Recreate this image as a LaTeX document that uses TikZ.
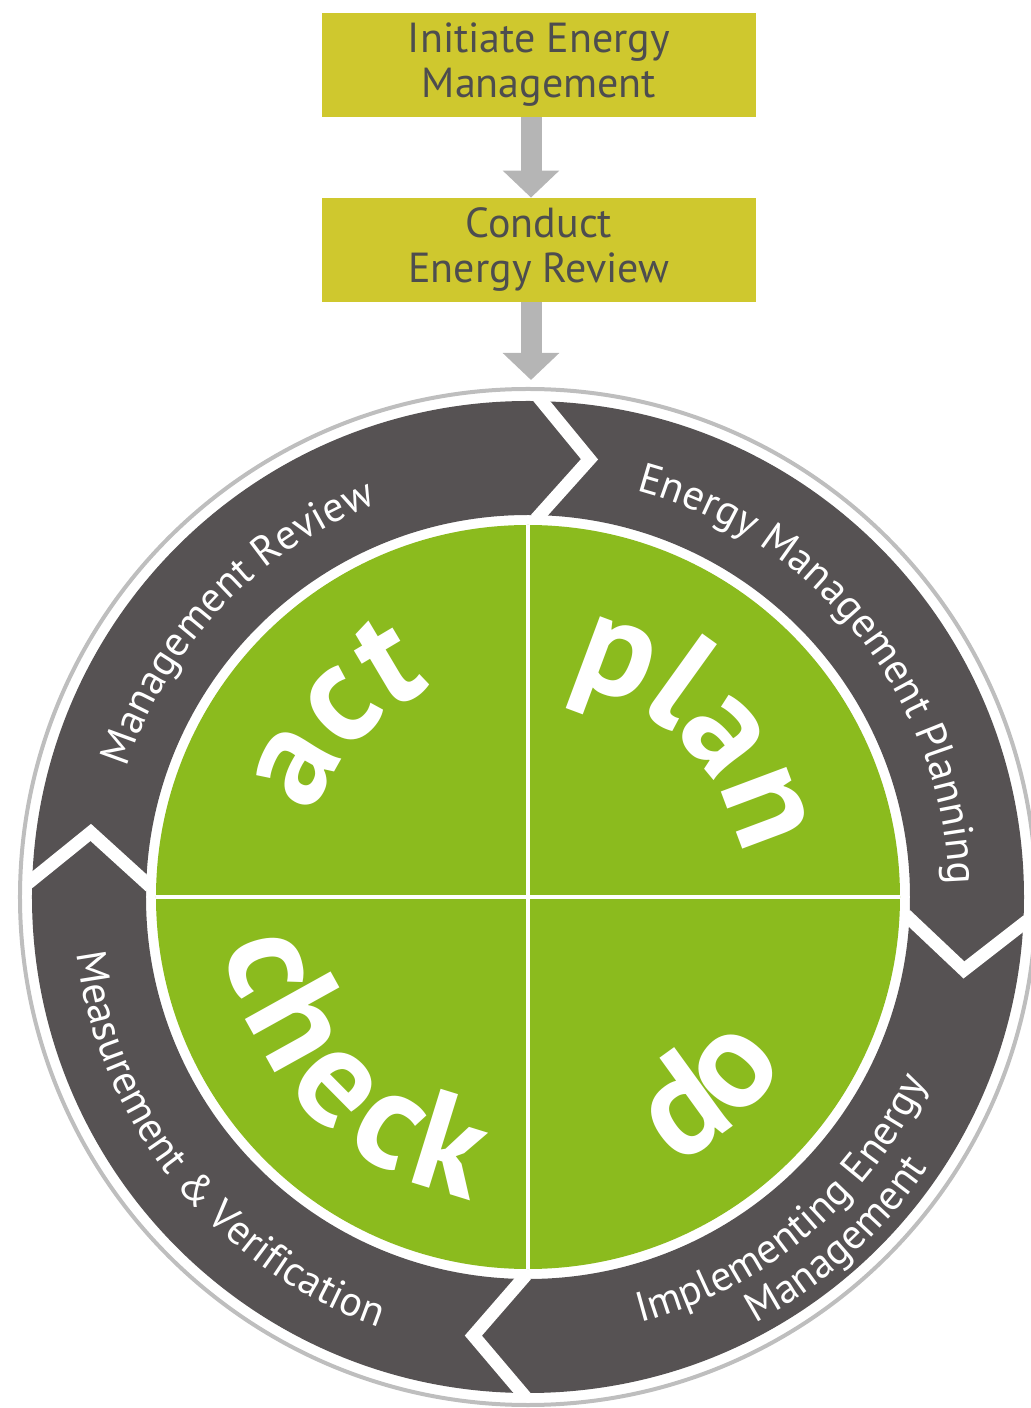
\documentclass[tikz,border=0pt]{standalone}
\usepackage{fontspec}
\setmainfont{PT Sans}
\usepackage{tikz}
\usetikzlibrary{arrows.meta,decorations.text}
\definecolor{JauneEtape}{RGB}{207,200,46}
\definecolor{GrisTexte}{RGB}{77,77,79}
\definecolor{GrisFleche}{RGB}{181,181,181}
\definecolor{GrisAnneau}{RGB}{86,82,83}
\definecolor{GrisBord}{RGB}{190,190,190}
\definecolor{VertCycle}{RGB}{139,187,30}
\newcommand{\Espace}{{\kern5pt}}
\tikzset{
Etape/.style={
 fill=JauneEtape,
 text=GrisTexte,
 minimum width=217pt,
 minimum height=52pt,
 align=center,
 font=\fontsize{21}{22.5}\selectfont
 },
Fleche/.style={
 draw=GrisFleche,
 line width=10.5pt,
 -{Triangle[width=27.5pt,length=13.5pt]}
 },
Chevron/.style={
 draw=white,
 line width=6.5pt,
 miter limit=20
 },
Anneau/.style={
 decorate,
 decoration={text along path, text align=center, text color=white,
  text={|\fontsize{21}{21}\selectfont|#1}}
 },
Mot/.style={
 decorate,
 decoration={text along path, text align=center, text color=white,
  text={|\fontsize{70}{70}\selectfont\bfseries|#1}}
 }
}
\begin{document}
\begin{tikzpicture}[x=0.5pt,y=0.5pt]
\useasboundingbox (-528,-511) rectangle (502,897);
% les deux etapes du haut
\node[Etape] (initier) at (11,832) {Initiate Energy\\Management};
\node[Etape] (revue) at (11,647) {Conduct\\Energy Review};
\coordinate (axe) at (3,0);
\coordinate (entree) at (3,517);
\draw[Fleche] (initier.south -| axe) -- (revue.north -| axe);
\draw[Fleche] (revue.south -| axe) -- (entree);
% anneau et fleches du cycle
\draw[GrisBord,line width=2pt] (0,0) circle (508);
\fill[GrisAnneau,even odd rule] (0,0) circle (496) circle (382);
\foreach \b in {88.8,-2.7,-90.3,178.4}
 \draw[Chevron] (\b:378) -- (\b-6.8:442) -- (\b:500);
% disque central
\fill[VertCycle] (0,0) circle (372);
\draw[white,line width=2pt] (-372,0) -- (372,0) (0,-372) -- (0,372);
% textes de l'anneau
\path[Anneau={Management Review}] (216.6:421) arc[start angle=216.6,end angle=56.6,radius=421];
\path[Anneau={Energy Management Planning}] (118.4:421) arc[start angle=118.4,end angle=-41.6,radius=421];
\path[Anneau={Measurement {\&} Verification}] (139:455) arc[start angle=139,end angle=299,radius=455];
\path[Anneau={Implementing Energy}] (-130:440) arc[start angle=-130,end angle=30,radius=440];
\path[Anneau={Management}] (-128:483) arc[start angle=-128,end angle=32,radius=483];
% les quatre mots
\path[Mot=act] (207:230) arc[start angle=207,end angle=67,radius=230];
\path[Mot=plan] (115:218) arc[start angle=115,end angle=-25,radius=218];
\path[Mot=do] (-117:306) arc[start angle=-117,end angle=23,radius=306];
\path[Mot={c\Espace h\Espace e\Espace c\Espace k}] (154:307) arc[start angle=154,end angle=294,radius=307];
\end{tikzpicture}
\end{document}
